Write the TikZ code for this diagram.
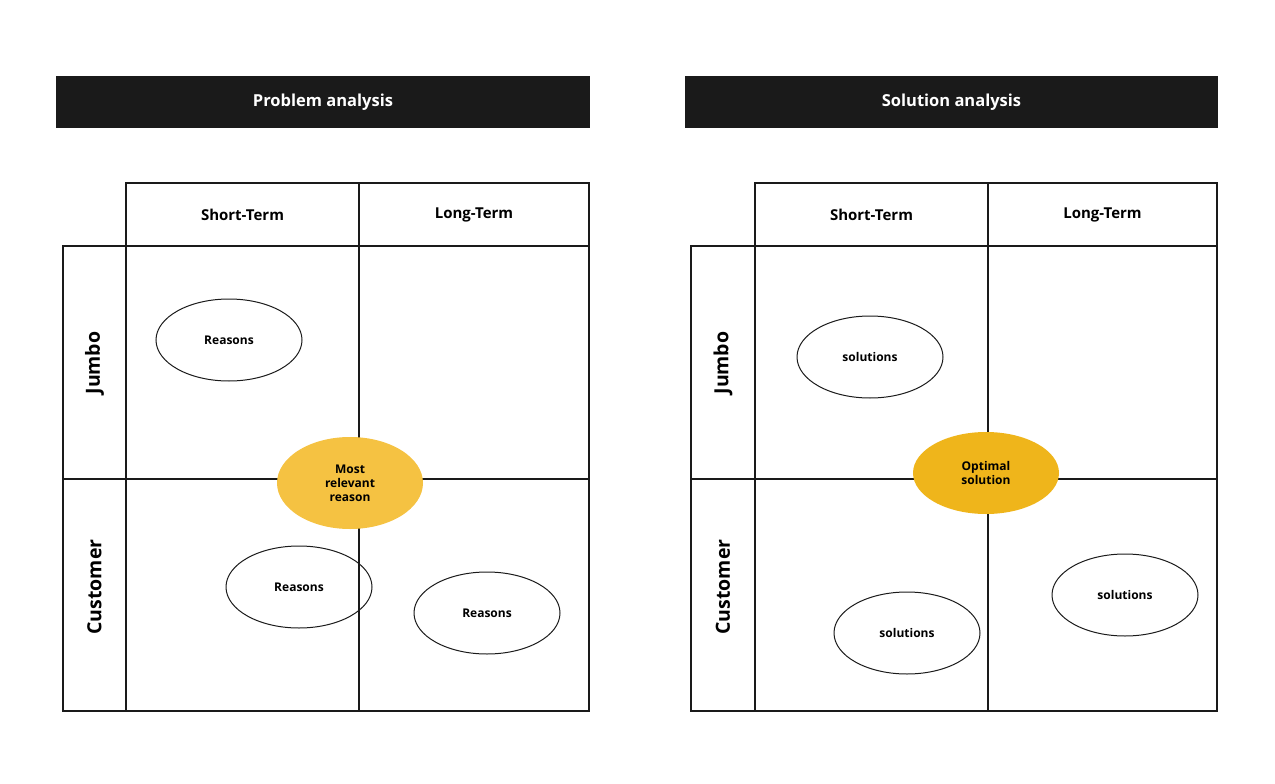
\documentclass[tikz,border=0pt]{standalone}
\usepackage{fontspec}
\setmainfont{Open Sans}
\usetikzlibrary{shapes.geometric}
\definecolor{barc}{HTML}{1A1A1A}
\definecolor{oA}{HTML}{F5C242}
\definecolor{oB}{HTML}{EFB51B}
\begin{document}
\begin{tikzpicture}[x=1pt,y=-1pt,
  bar/.style={fill=barc,draw=none},
  cell/.style={draw=barc,line width=2pt},
  ell/.style={ellipse,draw=barc,line width=1pt,minimum width=146pt,minimum height=82pt,font=\bfseries\fontsize{12}{14}\selectfont,align=center,inner sep=0pt},
  hd/.style={font=\bfseries\fontsize{16.5}{20}\selectfont,text=white},
  col/.style={font=\bfseries\fontsize{15}{18}\selectfont},
  rowl/.style={font=\bfseries\fontsize{19.5}{22}\selectfont,rotate=90}]
\useasboundingbox (0,0) rectangle (1275,784);
\foreach \o/\t/\sa/\sb/\ba/\bb/\ca/\cb/\cc in {0/Problem analysis/56/590/126/359/63/589/0, 629/Solution analysis/685/1218/755/988/691/1217/1}{
  \fill[barc] (\sa,76) rectangle (\sb,128);
  \node[hd] at ({(\sa+\sb)/2},102) {\t};
  \draw[cell] (\ba,183) rectangle (\cb,711);
  \draw[cell] (\ca,246) rectangle (\cb,711);
  \draw[cell] (\ba,246) -- (\ba,711);
  \draw[cell] (\bb,183) -- (\bb,711);
  \draw[cell] (\ca,479) -- (\cb,479);
  \node[col] at ({(\ba+\bb)/2},215) {Short-Term};
  \node[col] at ({(\bb+\cb)/2},215) {Long-Term};
  \node[rowl] at ({(\ca+\ba)/2},363) {Jumbo};
  \node[rowl] at ({(\ca+\ba)/2},587) {Customer};
}
\node[ell] (r1) at (229,340) {Reasons};
\node[ell] (r2) at (299,587) {Reasons};
\node[ell] (r3) at (487,613) {Reasons};
\node[ell,fill=oA,draw=none,minimum height=92pt] (m) at (350,483) {Most\\relevant\\reason};
\node[ell] (s1) at (870,357) {solutions};
\node[ell] (s2) at (907,633) {solutions};
\node[ell] (s3) at (1125,595) {solutions};
\node[ell,fill=oB,draw=none] (o) at (986,473) {Optimal\\solution};
\end{tikzpicture}
\end{document}
